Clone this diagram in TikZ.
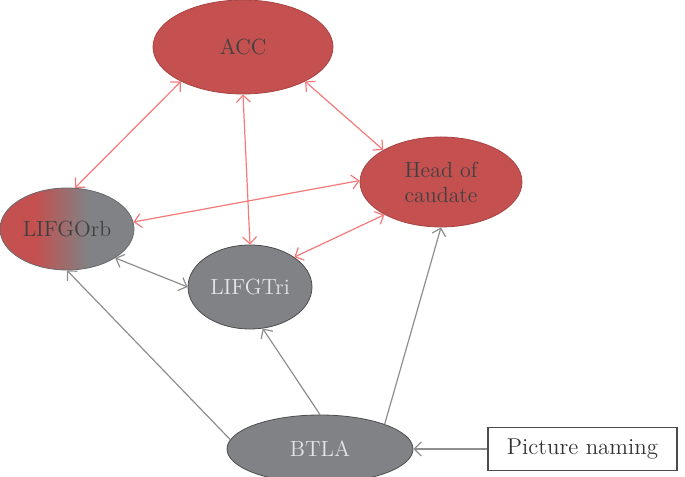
\documentclass[tikz,border=0pt]{standalone}
\usetikzlibrary{shapes.geometric,arrows.meta}

\definecolor{regred}{HTML}{C4504F}
\definecolor{reggray}{HTML}{808285}
\definecolor{linkred}{HTML}{F47A7A}
\definecolor{linkgray}{HTML}{8E8E8E}
\pgfdeclarehorizontalshading{orbshade}{100bp}{color(0bp)=(regred); color(38bp)=(regred); color(58bp)=(reggray); color(100bp)=(reggray)}

\begin{document}
\begin{tikzpicture}[x=0.5bp,y=-0.5bp,
    >={Straight Barb[length=3.5bp,width=7bp]},
    region/.style={ellipse,inner sep=0pt,align=center,font=\fontsize{11}{12.5}\selectfont},
    redregion/.style={region,fill=regred,draw=regred!85!black,text=black!75},
    grayregion/.style={region,fill=reggray,draw=black!70,text=white!90!black},
    redlink/.style={draw=linkred,line width=0.6bp,<->},
    graylink/.style={draw=linkgray,line width=0.6bp}]
    \useasboundingbox (0,0) rectangle (685,477);

    % Regions
    \node[redregion,minimum width=90bp,minimum height=47bp] (acc) at (243,47) {ACC};
    \node[redregion,minimum width=81bp,minimum height=45bp] (head) at (441,182) {Head of\\caudate};
    \node[region,shading=orbshade,draw=reggray!80!black,text=black!75,minimum width=67bp,minimum height=41bp] (orb) at (67,229) {LIFGOrb};
    \node[grayregion,minimum width=62bp,minimum height=42bp] (tri) at (250,287) {LIFGTri};
    \node[grayregion,minimum width=93bp,minimum height=34bp] (btla) at (320,449) {BTLA};

    % Task
    \node[draw=black!70,line width=0.6bp,minimum width=94.5bp,minimum height=21.5bp,
          font=\fontsize{11.5}{13}\selectfont,text=black!80] (naming) at (582.5,449) {Picture naming};

    % Red links
    \draw[redlink] (acc.209) -- (orb.79);
    \draw[redlink] (acc.south) -- (tri.north);
    \draw[redlink] (acc.331) -- (head.151);
    \draw[redlink] (orb.6) -- (head.179);
    \draw[redlink] (tri.34) -- (head.210);

    % Gray links
    \draw[graylink,<->] (orb.329) -- (tri.west);
    \draw[graylink,->] (btla.174) -- (orb.south);
    \draw[graylink,->] (btla.north) -- (tri.287);
    \draw[graylink,->] (btla.21) -- (head.south);
    \draw[graylink,->] (naming.west) -- (btla.east);
\end{tikzpicture}
\end{document}
